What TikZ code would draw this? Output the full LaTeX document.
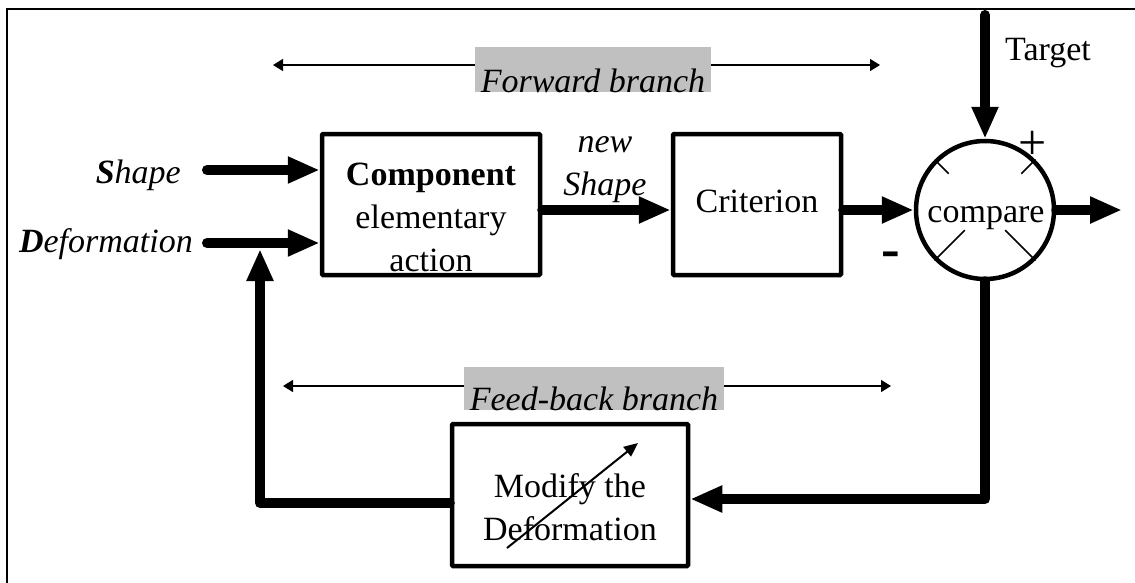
\documentclass[tikz,border=0pt]{standalone}
\usepackage{fontspec}
\setmainfont{Liberation Serif}
\usetikzlibrary{calc,positioning,arrows.meta}
\definecolor{LoopGray}{HTML}{C0C0C0}

\begin{document}
\begin{tikzpicture}[x=1pt,y=-1pt,
  font=\fontsize{34}{43}\selectfont,
  block/.style={draw, line width=4.5pt, rounded corners=1pt, inner sep=0pt},
  flow/.style={line width=10pt, line cap=round, line join=round, -{Triangle[length=32pt,width=25pt]}},
  span/.style={line width=1.5pt, {Triangle[length=10pt,width=12pt]}-{Triangle[length=10pt,width=12pt]}},
  branchlabel/.style={fill=LoopGray, inner xsep=6pt, inner ysep=0pt, text depth=0pt, anchor=base, font=\fontsize{34}{43}\selectfont\itshape},
  plain/.style={inner sep=0pt}]
  \useasboundingbox (0,0) rectangle (1135,582);
  \draw[line width=1.5pt] (7,600) -- (7,9) -- (1150,9);

  \node[block, minimum width=218pt, minimum height=141pt] (comp) at (431,204.5) {};
  \node[block, minimum width=168pt, minimum height=141pt] (crit) at (757,204.5) {};
  \node[block, minimum width=236pt, minimum height=142pt] (mod) at (570,495) {};
  \node[draw, circle, line width=4.5pt, minimum size=138pt, inner sep=0pt] (cmp) at (985,210) {};

  \node[plain, align=center] (comptxt) at (431,217) {\textbf{Component}\\elementary\\action};
  \node[plain, anchor=base] (crittxt) at (757,212) {Criterion};
  \node[plain, anchor=base] (cmptxt) at (986,222) {compare};
  \node[plain, align=center] (modtxt) at (570,507) {Modify the\\Deformation};
  \node[plain, anchor=base] (target) at (1048,60) {Target};
  \node[plain, anchor=base east, font=\fontsize{34}{43}\selectfont\itshape] (shapetxt) at (181,183) {\textbf{S}hape};
  \node[plain, anchor=base east, font=\fontsize{34}{43}\selectfont\itshape] (deftxt) at (193,252) {\textbf{D}eformation};
  \node[plain, anchor=base, font=\fontsize{34}{43}\selectfont\itshape] (newtxt) at (605,152) {new};
  \node[plain, anchor=base, font=\fontsize{34}{43}\selectfont\itshape] (newshape) at (605,195) {Shape};
  \node[plain, font=\fontsize{50}{50}\selectfont] (plus) at (1033,145) {+};
  \node[plain, font=\fontsize{56}{56}\selectfont\bfseries] (minus) at (891,260) {-};

  \foreach \a/\r in {135/0.72,45/0.72,225/0.4,315/0.4}
    \draw[line width=1.5pt] ($(cmp.center)!\r!(cmp.\a)$) -- (cmp.\a);

  \coordinate (fwdL) at (273,65);
  \coordinate (fwdR) at (880,65);
  \coordinate (fbkL) at (283,386);
  \coordinate (fbkR) at (891,386);
  \draw[span] (fwdL) -- (fwdR);
  \draw[span] (fbkL) -- (fbkR);
  \node[branchlabel, text height=45pt] (fwdlbl) at (593,92) {Forward branch};
  \node[branchlabel, text height=43pt] (fbklbl) at (594,410) {Feed-back branch};

  \coordinate (shapein) at (207,170);
  \coordinate (defin) at (207,243);
  \coordinate (tgt) at (985,15);
  \coordinate (out) at (1122,210);
  \coordinate (fbR) at (985,499);
  \coordinate (fbL) at (260,503);
  \coordinate (fbTop) at (260,249);
  \draw[flow] (shapein) -- (shapein -| comp.west);
  \draw[flow] (defin) -- (defin -| comp.west);
  \draw[flow] ($(comp.east)+(0,5.5)$) -- ($(crit.west)+(0,5.5)$);
  \draw[flow] ($(crit.east)+(0,5.5)$) -- (cmp.west);
  \draw[flow] (cmp.east) -- (out);
  \draw[flow] (tgt) -- (cmp.north);
  \draw[flow] (cmp.south) -- (fbR) -- (fbR -| mod.east);
  \draw[flow] (fbL -| mod.west) -- (fbL) -- (fbTop);

  \draw[line width=2pt, -{Triangle[length=14pt,width=12pt]}] ($(mod.center)+(-63,53)$) -- ($(mod.center)+(68,-52)$);
\end{tikzpicture}
\end{document}
